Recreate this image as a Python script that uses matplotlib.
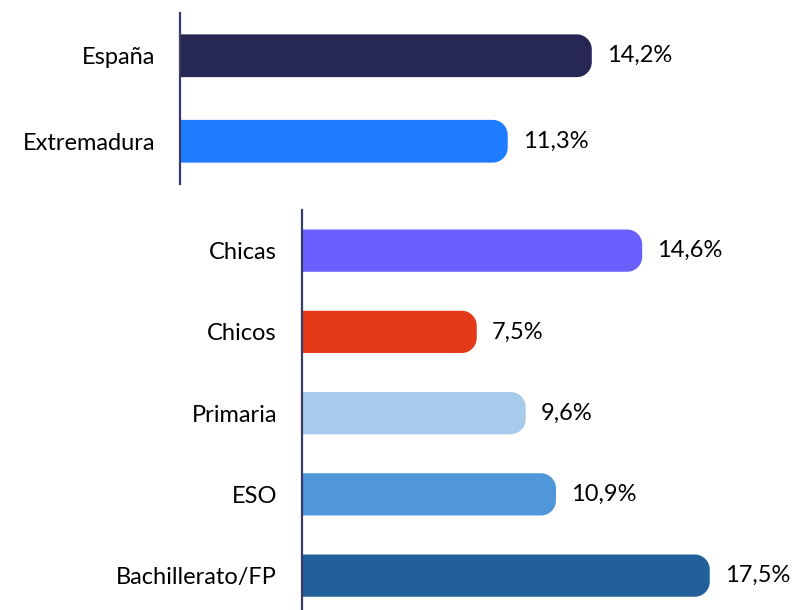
import numpy as np
import matplotlib
matplotlib.use("Agg")
import matplotlib.pyplot as plt
from matplotlib.path import Path
from matplotlib.patches import PathPatch

plt.rcParams['font.family'] = ['Lato', 'DejaVu Sans']

# data
top_labels = ['España', 'Extremadura']
top_values = [14.2, 11.3]
top_colors = ['#272754', '#1F7BFF']

bot_labels = ['Chicas', 'Chicos', 'Primaria', 'ESO', 'Bachillerato/FP']
bot_values = [14.6, 7.5, 9.6, 10.9, 17.5]
bot_colors = ['#6A5FFF', '#E53A1A', '#A8CBEC', '#5097D9', '#22609C']

W, H = 793, 610
FS = 17
fig = plt.figure(figsize=(W / 100, H / 100), dpi=100)


def rounded_bars(ax, labels, values, colors, height, radius_px, px_x, px_y):
    y = np.arange(len(labels))
    bars = ax.barh(y, values, height=height, color=colors)
    rx = radius_px / px_x
    ry = radius_px / px_y
    k = 0.5523
    for b, c in zip(bars, colors):
        x0, y0 = b.get_x(), b.get_y()
        x1, y1 = x0 + b.get_width(), y0 + b.get_height()
        verts = [(x0, y0), (x1 - rx, y0),
                 (x1 - rx + k * rx, y0), (x1, y0 + ry - k * ry), (x1, y0 + ry),
                 (x1, y1 - ry),
                 (x1, y1 - ry + k * ry), (x1 - rx + k * rx, y1), (x1 - rx, y1),
                 (x0, y1), (x0, y0)]
        codes = [Path.MOVETO, Path.LINETO,
                 Path.CURVE4, Path.CURVE4, Path.CURVE4,
                 Path.LINETO,
                 Path.CURVE4, Path.CURVE4, Path.CURVE4,
                 Path.LINETO, Path.CLOSEPOLY]
        ax.add_patch(PathPatch(Path(verts, codes), facecolor=c, edgecolor='none'))
        b.set_visible(False)
        ax.text(x1 + 15 / px_x, y0 + b.get_height() / 2, f"{b.get_width():.1f}%".replace('.', ','),
                va='center', ha='left', fontsize=FS, color='black')
    ax.set_yticks(y)
    ax.set_yticklabels(labels, fontsize=FS)


def style(ax):
    for s in ['top', 'right', 'bottom']:
        ax.spines[s].set_visible(False)
    ax.spines['left'].set_color('#3A3A6A')
    ax.spines['left'].set_linewidth(1.6)
    ax.set_xticks([])
    ax.tick_params(axis='y', length=0, pad=18)


# top panel: axis x=180px, y 13..184px
ax1 = fig.add_axes([180 / W, 1 - 184 / H, (W - 180) / W, 171 / H])
px_x1 = 29.0
ax1.set_xlim(0, (W - 180) / px_x1)
ax1.set_ylim(1.5, -0.5)
rounded_bars(ax1, top_labels, top_values, top_colors, 0.5, 15, px_x1, 85.5)
style(ax1)

# bottom panel: axis x=302px, from y=210px to bottom
ax2 = fig.add_axes([302 / W, 0, (W - 302) / W, (H - 210) / H])
px_x2 = 23.3
px_y2 = 81.25
ax2.set_xlim(0, (W - 302) / px_x2)
ax2.set_ylim(-0.5 + (H - 210) / px_y2, -0.5)
rounded_bars(ax2, bot_labels, bot_values, bot_colors, 0.52, 15, px_x2, px_y2)
style(ax2)

fig.savefig('out.png', dpi=100)
